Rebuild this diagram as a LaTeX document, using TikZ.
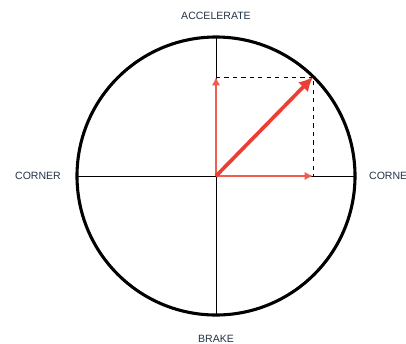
\documentclass[tikz,border=0pt]{standalone}
\usepackage{fontspec}
\setsansfont{Liberation Sans}
\usetikzlibrary{arrows.meta,positioning}
\definecolor{vecred}{RGB}{236,62,52}
\definecolor{comp}{RGB}{240,92,80}
\definecolor{labblue}{RGB}{35,50,68}
\tikzset{ring/.style={draw, line width=2.2pt},
  ax/.style={line width=0.7pt},
  res/.style={-{Latex[length=10pt, width=10pt]}, line width=2.6pt, vecred},
  part/.style={-{Latex[length=6pt, width=6pt]}, line width=1.5pt, comp},
  guide/.style={dashed, line width=0.6pt},
  lab/.style={font=\sffamily\fontsize{7.5}{9}\selectfont, text=labblue}}

\begin{document}
\begin{tikzpicture}[x=0.025cm, y=-0.025cm]
  \useasboundingbox (0,0) rectangle (406,343);
  \coordinate (o) at (216,176);
  \coordinate (tip) at (313,77);
  \coordinate (tx) at (313,176);
  \coordinate (ty) at (216,77);
  % friction circle and axes
  \draw[ring] (o) circle (139);
  \draw[ax] (216,37) -- (216,315);
  \draw[ax] (77,176) -- (355,176);
  % labels
  \node[lab] (acc) at (216,16) {ACCELERATE};
  \node[lab] (cl) at (38,176) {CORNER};
  \node[lab] (cr) at (392,176) {CORNER};
  \node[lab] (brk) at (216,339) {BRAKE};
  % dashed projection
  \draw[guide] (ty) -- (tip) -- (tx);
  % components and resultant
  \draw[part] (o) -- (ty);
  \draw[part] (o) -- (tx);
  \draw[res] (o) -- (tip);
\end{tikzpicture}
\end{document}
